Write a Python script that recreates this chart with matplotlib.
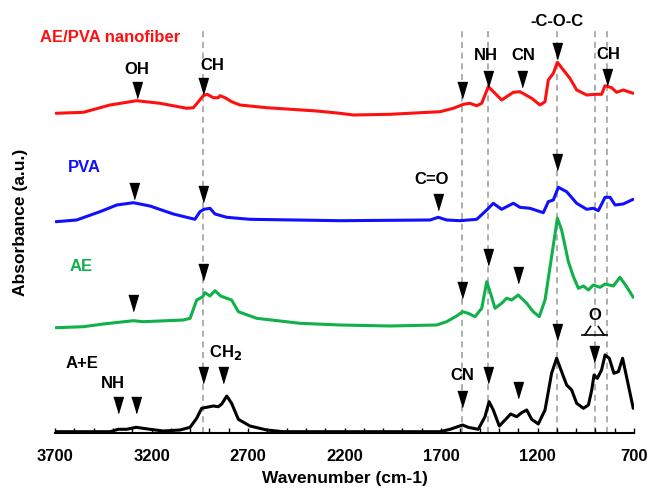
import numpy as np
import matplotlib.pyplot as plt
from matplotlib.ticker import MultipleLocator

plt.rcParams['font.family'] = ['Liberation Sans', 'DejaVu Sans']
plt.rcParams['font.weight'] = 'bold'

# Spectra: wavenumber (cm-1) and absorbance above each trace's own baseline.
red_wn = [3695, 3553, 3415, 3277, 3156, 3018, 2983, 2957, 2932, 2911, 2880, 2854, 2845, 2819, 2785,
          2742, 2603, 2344, 2223, 2154, 1964, 1705, 1636, 1584, 1550, 1515, 1489, 1455, 1420, 1386,
          1325, 1291, 1230, 1187, 1161, 1144, 1118, 1097, 1066, 1032, 997, 945, 902, 868, 850, 816,
          790, 756, 704]
red_abs = [0.7, 1.7, 9, 13.3, 10.7, 5.7, 6.3, 12.3, 18.3, 19.7, 16.3, 16.3, 18.3, 16.3, 12.3,
           9, 6.3, 3, 0.7, -1, -0.3, 2.3, 5.7, 9.7, 10.7, 8.3, 10.7, 27.3, 20.7, 14,
           21.7, 22.3, 15.7, 9, 12.3, 34, 40.7, 51.7, 44, 35.7, 24, 19, 19.7, 19.7, 28.3, 26.3,
           21.7, 24, 20.7]

blue_wn = [3695, 3588, 3467, 3380, 3294, 3208, 3087, 2975, 2949, 2928, 2897, 2871, 2810, 2690, 2223,
           1757, 1714, 1671, 1601, 1515, 1463, 1429, 1386, 1360, 1325, 1291, 1239, 1170, 1144, 1118,
           1092, 1049, 997, 945, 911, 885, 850, 824, 798, 756, 704]
blue_abs = [0.3, 2, 10.3, 17, 19.3, 16, 8, 2.7, 10.3, 12.7, 13.7, 8, 4.7, 2.7, 1.3,
            2, 4.7, 2, 1.3, 2.7, 12, 18.7, 12.7, 15.3, 18.7, 14.7, 13.7, 9.3, 20.3, 22,
            34.7, 30.3, 18.7, 12.7, 13.7, 11.3, 24.7, 24.7, 17, 18, 22.7]

green_wn = [3695, 3553, 3450, 3294, 3243, 3035, 3000, 2966, 2949, 2935, 2923, 2897, 2871, 2842, 2810,
            2785, 2750, 2655, 2431, 2223, 1964, 1723, 1671, 1619, 1588, 1559, 1524, 1489, 1463, 1446,
            1420, 1386, 1360, 1334, 1300, 1256, 1222, 1191, 1161, 1127, 1097, 1075, 1040, 1014, 988,
            962, 936, 911, 876, 850, 807, 773, 738, 704]
green_abs = [0.3, 1.3, 4, 7.3, 6.3, 8, 9.7, 28, 29.7, 31.3, 35.3, 32, 37.3, 32, 29.7,
             28, 16.3, 9.7, 4.7, 3, 2, 3, 6.3, 12, 16.3, 14.7, 11.3, 19.7, 46.3, 36.3,
             19.7, 24.7, 29.7, 28, 33, 24.7, 16.3, 11.3, 28, 71.3, 109.7, 98, 66.3, 51.3, 39.7,
             42, 38, 43, 40.7, 44, 42, 50.7, 41.3, 30.7]

black_wn = [3695, 3415, 3372, 3329, 3280, 3208, 3139, 3052, 3000, 2966, 2940, 2914, 2880, 2854, 2836,
            2810, 2785, 2750, 2690, 2603, 2517, 1705, 1653, 1588, 1559, 1507, 1472, 1451, 1429, 1398,
            1360, 1339, 1308, 1282, 1256, 1230, 1196, 1161, 1127, 1101, 1075, 1049, 1023, 997, 962,
            936, 919, 907, 890, 868, 850, 828, 804, 781, 759, 735, 704]
black_abs = [0.3, 0.3, 2.7, 2.7, 4.7, 2.7, 1, 2, 4.7, 13.7, 23.7, 24.7, 26, 25.3, 28,
             36, 28.7, 12.7, 6, 2, 0.3, 0.3, 2.7, 7, 4.7, 2.7, 15.3, 30.3, 22, 6,
             13.7, 18, 15.3, 19.3, 22, 12.7, 8, 22, 58.7, 73.7, 60.3, 47, 42, 28.7, 23.7,
             27, 42, 57, 53.7, 62, 77, 73.7, 58.7, 60.3, 73.7, 52, 23.7]

names = ['AE/PVA nanofiber', 'PVA', 'AE', 'A+E']
colors = ['#ff1010', '#1010ff', '#10b04a', 'black']
offsets = [318.5, 210.5, 104.5, 0.5]

# Band markers: (wavenumber, tip height above baseline) for each trace
red_marks = [(3277, 15.7), (2935, 19.7), (1590, 15.7), (1458, 27.3), (1280, 26.7), (1099, 54.7), (842, 29)]
blue_marks = [(3289, 22.7), (2935, 20.3), (1717, 12), (1099, 52)]
green_marks = [(3294, 17), (2935, 48), (1590, 29.7), (1458, 63), (1300, 44.7)]
black_marks = [(3372, 19.3), (3280, 19.3), (2935, 48.7), (2828, 48.7), (1590, 25.3), (1458, 48.7),
               (1303, 33.7), (1099, 92), (907, 70.3)]

guide_lines = [2935, 1590, 1458, 1099, 900, 842]

fig = plt.figure(figsize=(6.51, 4.95), dpi=100)
ax = fig.add_axes([55 / 651, 62.5 / 495, 579 / 651, 427.5 / 495])
ax.set_xlim(3700, 700)
ax.set_ylim(0, 427.5)

for w in guide_lines:
    ax.plot([w, w], [0, 402], color='#999999', lw=1.1, ls=(0, (4, 3)), zorder=1)

series = [(red_wn, red_abs), (blue_wn, blue_abs), (green_wn, green_abs), (black_wn, black_abs)]
marks = [red_marks, blue_marks, green_marks, black_marks]
tri = [(-0.6, 1), (0.6, 1), (0, -1)]
for (wn, ab), off, c, mk in zip(series, offsets, colors, marks):
    ax.plot(wn, np.array(ab) + off, color=c, lw=2.2, zorder=3,
            solid_joinstyle='round', solid_capstyle='round')
    for w, h in mk:
        ax.plot(w, off + h + 8, marker=tri, ms=11.5, color='black', zorder=4)

label_pos = [(3778, 395), (3633, 265), (3622, 166), (3643, 68.5)]
for name, c, (x, y) in zip(names, colors, label_pos):
    ax.text(x, y, name, color=c, fontsize=12, fontweight='bold', ha='left', va='center')

band_labels = [('OH', 3277, 363.5), ('CH', 2887, 366.5), ('NH', 1470, 376.5), ('CN', 1275, 377.5),
               ('-C-O-C', 1099, 411.5), ('CH', 835, 378), ('C=O', 1748, 253.5), ('NH', 3400, 49.5),
               ('CH$_2$', 2814, 79.5), ('CN', 1589, 56.5), ('O', 902, 117.5)]
for t, x, y in band_labels:
    ax.text(x, y, t, fontsize=12, fontweight='bold', ha='center', va='center')

# little bracket under the ether O
ax.plot([970, 840], [97.5, 97.5], color='black', lw=1.2)
ax.plot([955, 925], [97.5, 106], color='black', lw=1.2)
ax.plot([855, 885], [97.5, 106], color='black', lw=1.2)

for s in ['left', 'top', 'right']:
    ax.spines[s].set_visible(False)
ax.spines['bottom'].set_linewidth(1.5)
ax.set_yticks([])
ax.xaxis.set_minor_locator(MultipleLocator(100))
ax.set_xticks([3700, 3200, 2700, 2200, 1700, 1200, 700])
ax.tick_params(axis='x', which='both', direction='in', length=3.5, width=1, labelsize=12, pad=12)
for lab in ax.get_xticklabels():
    lab.set_fontweight('bold')

ax.set_xlabel('Wavenumber (cm-1)', fontsize=12.5, fontweight='bold', labelpad=5)
fig.text(21 / 651, 1 - 222 / 495, 'Absorbance (a.u.)', rotation=90, fontsize=12.5,
         fontweight='bold', ha='center', va='center')

fig.savefig('out.png', dpi=100)
